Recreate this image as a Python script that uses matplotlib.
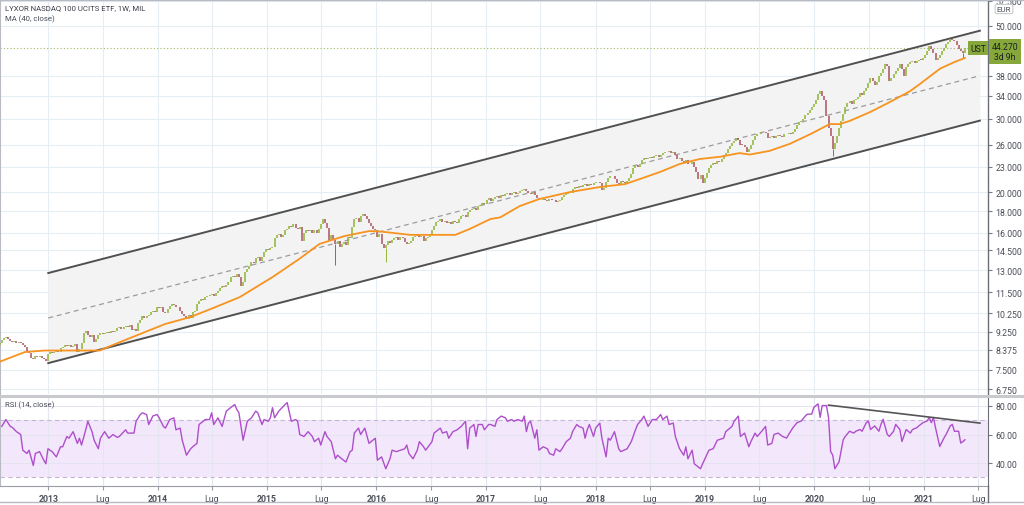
import numpy as np
import pandas as pd
import matplotlib
matplotlib.use("Agg")
import matplotlib.pyplot as plt
import matplotlib.dates as mdates
from matplotlib.ticker import FixedLocator, NullLocator, FuncFormatter

plt.rcParams['font.family'] = ['Roboto', 'DejaVu Sans']

# ---------------- data ----------------
start_week = '2012-07-23'
closes = [
    8.7, 8.85, 8.95, 9.0, 8.9, 8.8, 8.75, 8.8, 8.7, 8.75,
    8.7, 8.6, 8.5, 8.3, 8.25, 8.0, 7.95, 8.1, 8.05, 8.1,
    8.0, 7.95, 7.9, 8.2, 8.3, 8.25, 8.3, 8.35, 8.3, 8.45,
    8.5, 8.6, 8.55, 8.6, 8.5, 8.55, 8.65, 8.3, 8.4, 8.7,
    9.2, 9.3, 9.1, 9.0, 9.1, 8.75, 8.9, 9.1, 9.2, 9.15,
    9.2, 9.25, 9.2, 9.3, 9.25, 9.3, 9.45, 9.5, 9.4, 9.5,
    9.55, 9.5, 9.6, 9.35, 9.4, 9.3, 9.7, 9.9, 10.1, 10.0,
    10.1, 10.15, 10.3, 10.4, 10.35, 10.6, 10.55, 10.6, 10.3, 10.25,
    10.5, 10.7, 10.8, 10.75, 10.6, 10.6, 10.4, 10.2, 10.1, 9.95,
    10.15, 10.0, 10.3, 10.4, 10.8, 11.0, 11.1, 11.05, 11.2, 11.3,
    11.35, 11.4, 11.3, 11.45, 11.6, 11.8, 11.9, 11.85, 12.0, 12.2,
    12.5, 12.6, 12.55, 12.7, 12.5, 11.9, 12.2, 12.9, 13.1, 13.3,
    13.6, 13.5, 13.9, 14.0, 13.7, 14.0, 14.4, 14.6, 14.5, 14.7,
    14.8, 15.5, 15.8, 15.9, 15.6, 15.8, 16.2, 16.3, 16.6, 16.5,
    16.8, 16.4, 16.3, 16.5, 15.3, 16.0, 16.2, 16.1, 16.2, 16.0,
    16.2, 16.0, 16.3, 16.8, 17.2, 16.9, 16.4, 15.3, 15.8, 15.4,
    15.0, 15.3, 14.8, 15.0, 15.2, 14.9, 15.6, 15.5, 16.5, 17.2,
    17.3, 17.0, 17.5, 17.7, 17.5, 17.2, 16.9, 16.6, 16.3, 16.2,
    15.6, 15.9, 15.0, 14.7, 14.9, 15.3, 15.1, 15.4, 15.5, 15.6,
    15.4, 15.6, 15.5, 15.2, 15.0, 15.1, 15.3, 15.6, 15.7, 15.8,
    15.6, 15.7, 15.3, 15.5, 15.6, 15.8, 16.2, 16.6, 17.0, 17.1,
    17.2, 17.0, 17.1, 16.9, 17.0, 16.8, 17.1, 17.0, 16.9, 17.2,
    17.5, 17.6, 17.4, 17.9, 18.1, 18.2, 18.3, 18.1, 18.5, 18.6,
    18.8, 18.7, 19.2, 19.4, 19.0, 19.3, 19.5, 19.6, 19.4, 19.7,
    19.6, 19.8, 19.9, 19.7, 19.9, 20.0, 19.8, 19.9, 20.1, 20.2,
    20.3, 20.1, 19.9, 19.8, 20.0, 19.7, 19.4, 19.2, 19.1, 19.3,
    19.2, 19.0, 19.3, 19.1, 19.2, 18.9, 19.0, 19.1, 19.5, 19.7,
    19.8, 20.0, 19.9, 20.3, 20.6, 20.5, 20.7, 20.6, 20.8, 20.9,
    20.7, 20.9, 20.8, 21.0, 21.1, 21.2, 21.0, 20.2, 20.5, 21.2,
    21.6, 21.9, 21.8, 21.5, 21.0, 20.8, 21.3, 21.1, 21.0, 21.3,
    21.6, 22.1, 22.8, 23.2, 23.0, 23.4, 23.9, 24.1, 24.0, 24.2,
    24.3, 24.1, 24.4, 24.6, 24.3, 24.5, 24.8, 25.0, 24.9, 25.1,
    24.8, 25.0, 24.5, 24.0, 24.2, 23.8, 23.5, 23.9, 23.4, 23.3,
    23.6, 23.0, 22.4, 21.5, 22.0, 21.0, 21.6, 22.2, 22.8, 23.2,
    23.5, 23.4, 23.7, 23.6, 24.0, 24.6, 24.8, 25.3, 25.8, 26.2,
    26.5, 27.0, 26.7, 26.0, 25.9, 25.6, 25.0, 25.4, 26.0, 26.6,
    27.2, 27.5, 27.6, 27.8, 27.9, 27.7, 26.9, 27.1, 27.3, 27.0,
    27.2, 27.4, 27.2, 27.1, 27.5, 27.6, 27.7, 27.5, 27.9, 28.4,
    29.0, 29.4, 29.6, 30.0, 30.6, 31.0, 31.4, 32.0, 32.5, 33.3,
    34.3, 34.9, 34.0, 33.2, 30.5, 28.5, 27.3, 25.3, 26.2, 27.2,
    28.5, 29.6, 30.8, 32.0, 32.6, 33.0, 32.5, 33.2, 33.5, 33.8,
    34.5, 34.2, 35.0, 35.6, 36.5, 37.5, 37.0, 36.0, 36.8, 38.0,
    38.5, 39.5, 40.6, 40.0, 37.0, 37.5, 38.3, 38.9, 39.6, 40.6,
    39.5, 38.0, 39.8, 40.5, 41.0, 41.2, 40.8, 41.2, 41.5, 41.4,
    41.8, 42.6, 43.5, 44.8, 44.0, 43.0, 41.5, 41.8, 42.5, 43.6,
    44.2, 45.3, 45.8, 46.6, 46.2, 46.0, 45.0, 44.0, 43.5, 43.0,
    44.27,
]
first_open = 8.6
wick_lows = {160: 13.4, 184: 13.6, 397: 24.4, 459: 41.9}

ma_dates = ['2012-07-23', '2012-10-15', '2012-12-20', '2013-06-22', '2013-07-27',
            '2013-10-17', '2014-01-25', '2014-04-20', '2014-07-13', '2014-10-02',
            '2015-01-20', '2015-04-18', '2015-06-25', '2015-09-17', '2015-12-09',
            '2016-01-12', '2016-04-22', '2016-07-30', '2016-09-20', '2016-11-07',
            '2017-01-15', '2017-02-17', '2017-04-23', '2017-06-28', '2017-10-07',
            '2018-01-15', '2018-04-09', '2018-05-29', '2018-08-04', '2018-10-09',
            '2018-12-14', '2019-02-20', '2019-04-26', '2019-05-30', '2019-08-04',
            '2019-10-11', '2019-12-17', '2020-02-21', '2020-03-25', '2020-04-27',
            '2020-07-05', '2020-09-10', '2020-11-15', '2020-12-18', '2021-02-23',
            '2021-04-13', '2021-05-17']
ma_values = [7.85, 8.28, 8.35, 8.35, 8.56,
             9.04, 9.66, 10.04, 10.61, 11.21,
             12.53, 13.83, 15.03, 15.70, 16.14,
             16.1, 15.8, 15.8, 15.8, 16.32,
             17.24, 17.4, 18.52, 19.26, 20.0,
             20.57, 20.9, 21.5, 22.35, 23.36,
             24.0, 24.3, 24.8, 24.6, 25.1,
             26.1, 27.5, 29.1, 29.1, 29.6,
             31.1, 32.9, 34.9, 36.3, 39.5,
             41.0, 41.9]

rsi_weeks = [1, 3, 5, 6, 8, 10, 11, 13, 14, 16, 17, 19, 21, 22, 23, 25, 27, 29, 30, 32,
             33, 35, 37, 38, 39, 41, 42, 44, 45, 47, 48, 50, 52, 54, 56, 57, 60, 61, 64, 65,
             67, 68, 70, 71, 73, 75, 76, 78, 79, 81, 83, 84, 86, 87, 89, 91, 92, 94, 95, 97,
             98, 100, 101, 102, 104, 106, 108, 110, 112, 113, 114, 116, 118, 120, 122, 123, 125, 126, 128, 129,
             130, 131, 133, 136, 137, 139, 141, 142, 143, 145, 147, 149, 150, 152, 153, 155, 156, 158, 160, 161,
             163, 165, 167, 168, 169, 171, 172, 174, 176, 177, 179, 180, 182, 184, 186, 187, 189, 191, 193, 194,
             195, 197, 199, 200, 202, 203, 206, 207, 210, 211, 213, 214, 216, 218, 220, 222, 223, 224, 226, 227,
             228, 230, 231, 233, 234, 236, 237, 239, 241, 242, 244, 245, 247, 249, 250, 251, 252, 253, 255, 256,
             257, 259, 261, 262, 264, 265, 267, 268, 270, 272, 273, 275, 276, 278, 279, 280, 281, 283, 284, 286,
             287, 289, 290, 291, 293, 295, 296, 299, 301, 303, 304, 306, 307, 309, 311, 313, 315, 316, 318, 319,
             321, 322, 324, 326, 327, 328, 330, 331, 334, 335, 338, 340, 342, 345, 346, 349, 350, 352, 353, 355,
             357, 358, 360, 361, 363, 365, 366, 368, 369, 371, 373, 375, 376, 378, 380, 382, 384, 385, 387, 388,
             390, 391, 392, 394, 395, 396, 397, 398, 399, 400, 402, 403, 405, 407, 408, 410, 411, 413, 414, 415,
             417, 419, 420, 421, 423, 424, 426, 427, 429, 430, 432, 434, 435, 437, 438, 440, 442, 443, 444, 445,
             446, 448, 450, 451, 453, 454, 455, 457, 458, 459, 460]
rsi_values = [65.7, 70.5, 65.7, 65.0, 62.0, 60.0, 49.0, 46.7, 49.0, 38.3, 46.7, 48.0, 42.0, 39.5, 50.0, 48.0, 44.3, 51.4, 51.4, 58.6,
              57.4, 62.0, 53.8, 57.4, 52.6, 63.3, 69.3, 62.0, 56.0, 50.0, 57.4, 62.0, 57.4, 60.0, 58.0, 58.6, 63.3, 61.0, 61.0, 69.3,
              74.0, 75.2, 74.0, 67.0, 73.0, 74.0, 71.7, 65.7, 64.5, 70.5, 71.7, 63.3, 64.5, 56.0, 45.5, 50.0, 51.4, 53.8, 67.0, 69.3,
              70.5, 70.5, 75.2, 67.0, 71.7, 65.7, 76.4, 78.8, 81.0, 77.6, 75.2, 56.0, 69.3, 71.7, 76.4, 75.2, 67.0, 70.5, 69.3, 71.7,
              78.8, 71.7, 76.4, 81.0, 82.4, 69.3, 70.5, 69.3, 60.0, 58.6, 62.0, 58.6, 55.0, 57.4, 52.6, 62.0, 58.6, 55.0, 43.0, 45.5,
              43.0, 40.7, 48.0, 49.0, 61.0, 64.5, 60.0, 64.5, 53.8, 55.0, 57.4, 42.0, 44.3, 36.0, 43.0, 49.0, 48.0, 49.0, 50.0, 52.6,
              46.7, 43.0, 49.0, 55.0, 51.4, 49.0, 55.0, 61.0, 64.5, 61.0, 62.0, 57.4, 62.0, 63.3, 65.7, 69.3, 50.0, 64.5, 67.0, 58.6,
              67.0, 67.0, 63.3, 67.0, 67.0, 65.7, 70.5, 72.9, 71.7, 69.3, 70.5, 69.3, 70.5, 69.3, 72.9, 62.0, 68.0, 69.3, 57.4, 63.3,
              49.0, 51.4, 50.0, 46.7, 45.5, 50.0, 48.0, 50.0, 55.0, 57.4, 62.0, 67.0, 65.7, 64.5, 57.4, 63.3, 67.0, 58.6, 64.5, 68.0,
              57.4, 44.3, 57.4, 56.0, 62.0, 50.0, 48.0, 50.0, 55.0, 63.3, 67.0, 70.5, 72.9, 65.7, 70.5, 70.5, 74.0, 70.5, 72.9, 67.0,
              68.0, 58.6, 50.0, 45.5, 51.4, 43.0, 49.0, 39.5, 36.0, 39.5, 49.0, 50.0, 56.0, 57.4, 62.0, 65.7, 69.3, 72.9, 58.6, 61.0,
              51.4, 55.0, 61.0, 58.6, 62.0, 65.7, 52.6, 53.8, 60.0, 61.0, 58.7, 57.5, 60.0, 64.7, 68.3, 69.5, 73.1, 74.3, 74.3, 79.0,
              81.5, 72.0, 80.3, 80.3, 72.0, 48.0, 45.6, 36.0, 38.4, 40.8, 56.3, 58.7, 62.3, 61.0, 62.3, 63.5, 62.3, 68.3, 69.5, 63.5,
              66.0, 62.3, 67.1, 70.7, 60.0, 58.7, 62.3, 67.1, 63.5, 55.1, 63.5, 61.0, 63.5, 64.7, 66.0, 68.3, 69.5, 72.0, 68.3, 72.0,
              64.7, 51.6, 57.5, 60.0, 66.0, 67.1, 62.3, 62.3, 54.0, 55.0, 56.3]

channel_dates = ['2013-01-01', '2021-07-06']
channel_upper = [12.80, 48.7]
channel_lower = [7.79, 29.66]
channel_mid = [9.99, 38.0]
rsi_trend_dates = ['2020-02-17', '2021-07-06']
rsi_trend_values = [80.6, 68.0]

last_price = 44.27
price_ticks = [6.75, 7.5, 8.375, 9.25, 10.25, 11.5, 13, 14.5, 16, 18, 20, 23, 26, 30, 34, 38, 50, 57.5]
rsi_ticks = [40, 60, 80]
year_ticks = ['2013', '2014', '2015', '2016', '2017', '2018', '2019', '2020', '2021']
month_label = 'Lug'

# ---------------- figure ----------------
W, H = 1024, 506
fig = plt.figure(figsize=(W / 100, H / 100), dpi=100)
fig.patch.set_facecolor('white')

def fx(px):
    return px / W

def fy(py):
    return 1 - py / H

ax = fig.add_axes([0, fy(395), fx(988), (395 - 0) / H])
axr = fig.add_axes([0, fy(487), fx(988), (487 - 398) / H], sharex=ax)

dates = pd.date_range(start_week, periods=len(closes), freq='7D')
dn = mdates.date2num(dates)
closes_a = np.array(closes)
opens_a = np.concatenate([[first_open], closes_a[:-1]])

up_c = '#90b83a'
dn_c = '#ad5866'
grid_c = '#e6edf3'
tick_fs = 6.3
lab_c = '#4a4e58'

xmin = mdates.date2num(pd.Timestamp('2012-07-24'))
xmax = mdates.date2num(pd.Timestamp('2021-08-02'))

# grid
vt = []
for y in year_ticks:
    vt.append(mdates.date2num(pd.Timestamp(f'{y}-01-01')))
    vt.append(mdates.date2num(pd.Timestamp(f'{y}-07-01')))
for a in (ax, axr):
    for v in vt:
        a.axvline(v, color=grid_c, lw=0.8, zorder=0)
for t in price_ticks:
    ax.axhline(t, color=grid_c, lw=0.8, zorder=0)

# channel
cd = mdates.date2num(pd.to_datetime(channel_dates))
ax.fill_between(cd, channel_lower, channel_upper, color='#f3f3f3', zorder=1, lw=0)
ax.plot(cd, channel_upper, color='#505050', lw=1.4, zorder=3)
ax.plot(cd, channel_lower, color='#505050', lw=1.4, zorder=3)
ax.plot(cd, channel_mid, color='#9c9c9c', lw=0.9, ls=(0, (4, 3)), zorder=3)

# candles
colors = np.where(closes_a >= opens_a, up_c, dn_c)
lo = np.minimum(opens_a, closes_a)
hi = np.maximum(opens_a, closes_a)
for i, v in wick_lows.items():
    ax.vlines(dn[i], v, lo[i], color=colors[i], lw=0.7, zorder=4)
hi_vis = np.maximum(hi, lo * 1.004)
ax.vlines(dn, lo, hi_vis, colors=colors, lw=1.15, zorder=4)

# MA
ax.plot(mdates.date2num(pd.to_datetime(ma_dates)), ma_values, color='#f7931e', lw=1.3, zorder=5)

# last price line
ax.axhline(last_price, color='#9dbb62', lw=0.8, ls=(0, (1, 2)), zorder=2)

ax.set_yscale('log')
ax.set_ylim(6.57, 58.0)
ax.set_xlim(xmin, xmax)
ax.yaxis.tick_right()
ax.yaxis.set_major_locator(FixedLocator(price_ticks))
ax.yaxis.set_minor_locator(NullLocator())
ax.yaxis.set_major_formatter(FuncFormatter(lambda v, p: f'{v:.3f}'))
ax.tick_params(axis='y', which='major', length=3, width=0.8, color='#787b86',
               labelsize=tick_fs, labelcolor=lab_c, pad=2.5)
ax.tick_params(axis='x', which='both', bottom=False, labelbottom=False)
for s in ['top', 'bottom']:
    ax.spines[s].set_visible(False)
ax.spines['left'].set_color('#b8bbc2')
ax.spines['right'].set_color('#6b6e78')
ax.spines['right'].set_linewidth(1.0)
ax.set_facecolor('none')

# RSI
axr.axhspan(30, 70, color='#f3e7fc', zorder=0, lw=0)
for v in vt:
    axr.axvline(v, color='#e4e6f0', lw=0.8, zorder=0.5)
for t in rsi_ticks:
    axr.axhline(t, color='#e6e3f0', lw=0.7, zorder=0.5)
axr.axhline(70, color='#c6b6d6', lw=0.8, ls=(0, (4, 3)), zorder=1)
axr.axhline(30, color='#c6b6d6', lw=0.8, ls=(0, (4, 3)), zorder=1)
axr.plot(dn[np.array(rsi_weeks)], rsi_values, color='#ad4fca', lw=1.0, zorder=3)
axr.plot(mdates.date2num(pd.to_datetime(rsi_trend_dates)), rsi_trend_values,
         color='#555555', lw=1.2, zorder=4)
axr.set_ylim(23.9, 86.3)
axr.yaxis.tick_right()
axr.yaxis.set_major_locator(FixedLocator(rsi_ticks))
axr.yaxis.set_major_formatter(FuncFormatter(lambda v, p: f'{v:.2f}'))
axr.tick_params(axis='y', length=3, width=0.8, color='#787b86', labelsize=tick_fs,
                labelcolor=lab_c, pad=2.5)
axr.set_xlim(xmin, xmax)
axr.xaxis.set_major_locator(FixedLocator(vt))
labels = []
for y in year_ticks:
    labels += [y, month_label]
axr.set_xticklabels(labels)
axr.tick_params(axis='x', length=3, width=0.8, color='#9a9da6', labelsize=tick_fs,
                labelcolor=lab_c, pad=3)
for i, lab in enumerate(axr.get_xticklabels()):
    if i % 2 == 0:
        lab.set_fontweight('bold')
axr.spines['top'].set_visible(False)
axr.spines['left'].set_color('#b8bbc2')
axr.spines['right'].set_color('#6b6e78')
axr.spines['bottom'].set_color('#9a9da6')
axr.set_facecolor('white')

# separators and frame
fig.add_artist(plt.Line2D([0, fx(1024)], [fy(396.5), fy(396.5)], color='#c9cacd', lw=2.2))
fig.add_artist(plt.Line2D([0, 1], [fy(503), fy(503)], color='#b8bbc2', lw=1.0))
fig.add_artist(plt.Line2D([0, 1], [fy(0.5), fy(0.5)], color='#b8bbc2', lw=1.0))
fig.add_artist(plt.Line2D([fx(988), fx(988)], [fy(503), fy(487)], color='#6b6e78', lw=1.0))

# texts
fig.text(fx(5), fy(8.5), 'LYXOR NASDAQ 100 UCITS ETF, 1W, MIL', fontsize=5.6,
         color='#3c3f47', va='center', ha='left')
fig.text(fx(5), fy(19.5), 'MA (40, close)', fontsize=5.6, color=lab_c, va='center', ha='left')
fig.text(fx(5), fy(405), 'RSI (14, close)', fontsize=5.6, color=lab_c, va='center', ha='left')

fig.text(fx(1004), fy(10), 'EUR', fontsize=5.8, color=lab_c, ha='center', va='center',
         bbox=dict(boxstyle='round,pad=0.2', fc='white', ec='#c9cacd', lw=0.8))
fig.text(fx(978), fy(49), 'UST', fontsize=6.2, color='#1e1f22', ha='center', va='center',
         bbox=dict(boxstyle='square,pad=0.25', fc='#86a83a', ec='none'))
fig.text(fx(1005), fy(52.5), f'{last_price:.3f}\n3d 9h', fontsize=6.2, color='#1e1f22',
         ha='center', va='center', linespacing=1.2,
         bbox=dict(boxstyle='square,pad=0.35', fc='#86a83a', ec='none'))

fig.savefig('out.png', dpi=100, facecolor='white')
